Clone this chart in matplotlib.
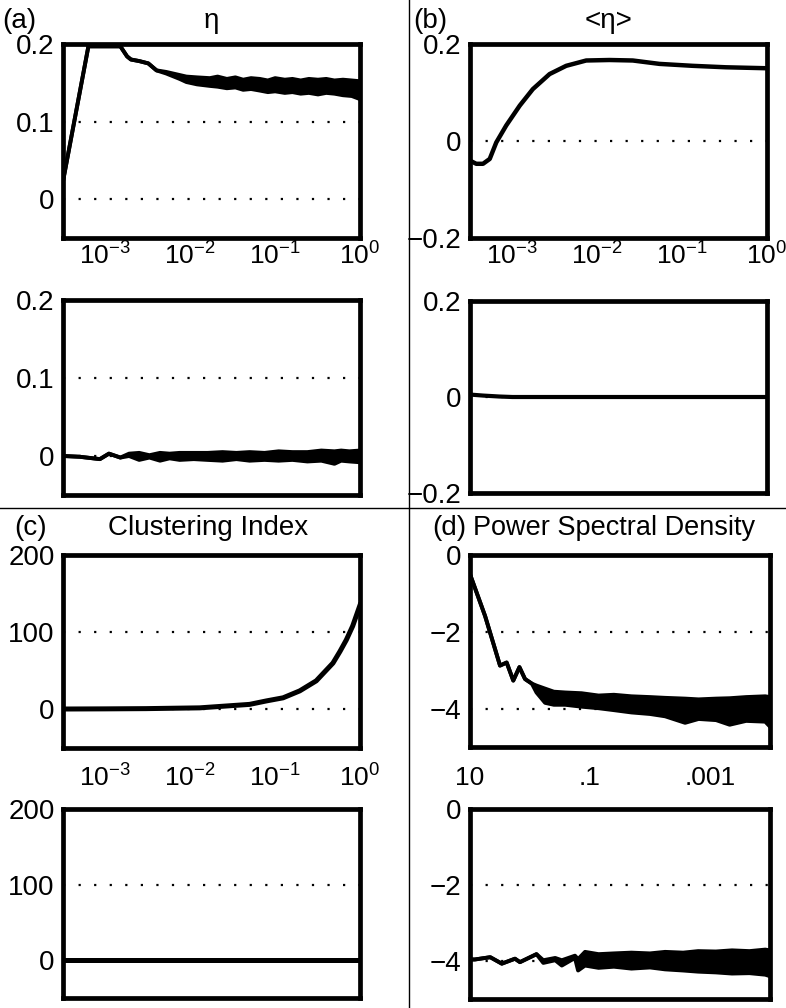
import matplotlib
matplotlib.use('Agg')

import matplotlib.pyplot as plt
from matplotlib.lines import Line2D
from matplotlib.ticker import FixedLocator, FixedFormatter, NullLocator

plt.rcParams['font.family'] = ['Liberation Sans', 'DejaVu Sans']
plt.rcParams['mathtext.fontset'] = 'custom'
plt.rcParams['mathtext.rm'] = 'Liberation Sans'
plt.rcParams['mathtext.it'] = 'Liberation Sans'

# --- Data ---
# (a) eta, original sequence: envelope of the noisy curve
a1_x = [3.2e-4, 6.3e-4, 1.5e-3, 1.8e-3, 2.0e-3, 2.5e-3, 3.2e-3, 4.0e-3, 5.2e-3, 7.5e-3,
        9.0e-3, 0.012, 0.017, 0.021, 0.027, 0.034, 0.042, 0.052, 0.066, 0.082,
        0.10, 0.13, 0.16, 0.20, 0.25, 0.32, 0.40, 0.50, 0.63, 0.80, 1.0]
a1_hi = [0.026, 0.197, 0.197, 0.184, 0.180, 0.178, 0.175, 0.166, 0.164, 0.160,
         0.158, 0.157, 0.156, 0.158, 0.155, 0.157, 0.154, 0.156, 0.155, 0.153,
         0.156, 0.154, 0.155, 0.153, 0.155, 0.154, 0.155, 0.153, 0.154, 0.153, 0.152]
a1_lo = [0.026, 0.197, 0.197, 0.184, 0.180, 0.178, 0.175, 0.166, 0.162, 0.155,
         0.151, 0.148, 0.146, 0.145, 0.143, 0.144, 0.141, 0.142, 0.140, 0.138,
         0.139, 0.137, 0.138, 0.136, 0.137, 0.135, 0.137, 0.136, 0.134, 0.133, 0.129]

# (a) eta, shuffled sequence
a2_x = [3.2e-4, 5.0e-4, 8.6e-4, 1.1e-3, 1.5e-3, 1.9e-3, 2.5e-3, 3.3e-3, 4.4e-3, 5.7e-3,
        7.5e-3, 0.011, 0.016, 0.024, 0.035, 0.05, 0.075, 0.11, 0.16, 0.24,
        0.35, 0.5, 0.6, 0.75, 1.0]
a2_hi = [0.0, -0.001, -0.004, 0.003, -0.002, 0.003, 0.004, 0.001, 0.004, 0.003,
         0.004, 0.004, 0.004, 0.005, 0.004, 0.005, 0.004, 0.006, 0.005, 0.005,
         0.007, 0.006, 0.007, 0.006, 0.007]
a2_lo = [0.0, -0.001, -0.004, 0.003, -0.002, 0.0, -0.005, -0.002, -0.006, -0.003,
         -0.005, -0.004, -0.005, -0.006, -0.004, -0.006, -0.005, -0.006, -0.005, -0.007,
         -0.006, -0.010, -0.006, -0.007, -0.008]

# (b) <eta>
b1_x = [3.2e-4, 3.75e-4, 4.5e-4, 5.4e-4, 6.45e-4, 8.45e-4, 1.22e-3, 1.74e-3, 2.74e-3,
        4.3e-3, 7.4e-3, 0.0139, 0.0262, 0.054, 0.133, 0.327, 1.0]
b1_y = [-0.041, -0.047, -0.047, -0.037, -0.003, 0.032, 0.073, 0.107, 0.138,
        0.155, 0.166, 0.167, 0.166, 0.159, 0.155, 0.152, 0.150]
b2_x = [3.2e-4, 4.5e-4, 7.0e-4, 1.0e-3, 0.01, 0.1, 1.0]
b2_y = [0.005, 0.003, 0.001, 0.0, 0.0, 0.0, 0.0]

# (c) clustering index
c1_x = [3.2e-4, 1.0e-3, 3.0e-3, 0.0129, 0.05, 0.079, 0.124, 0.195, 0.305, 0.48, 0.58, 0.69, 0.82, 1.0]
c1_y = [0.5, 0.7, 1.0, 2.0, 6.5, 11, 15, 24, 37, 60, 75, 90, 108, 135]
c2_x = [3.2e-4, 1.0]
c2_y = [0.0, 0.0]

# (d) power spectral density (log10), x runs from 10 down to 1e-4
d1_x = [10, 5.6, 3.16, 2.45, 1.9, 1.5, 1.21, 0.93, 0.78, 0.56, 0.4, 0.26, 0.138, 0.072,
        0.04, 0.0204, 0.01, 5.6e-3, 2.6e-3, 1.55e-3, 7.9e-4, 4.7e-4, 2.5e-4, 1.2e-4, 1e-4]
d1_hi = [-0.5, -1.59, -2.88, -2.80, -3.27, -2.92, -3.23, -3.35, -3.40, -3.48, -3.56, -3.58,
         -3.60, -3.66, -3.64, -3.68, -3.70, -3.72, -3.74, -3.76, -3.74, -3.73, -3.70, -3.68, -3.70]
d1_lo = [-0.5, -1.59, -2.88, -2.80, -3.27, -2.92, -3.23, -3.35, -3.58, -3.85, -3.90, -3.90,
         -3.95, -3.99, -4.04, -4.10, -4.14, -4.20, -4.37, -4.27, -4.30, -4.42, -4.32, -4.34, -4.47]

d2_x = [10, 8.3, 4.6, 2.95, 1.78, 1.47, 0.78, 0.6, 0.38, 0.295, 0.178, 0.158, 0.121, 0.072,
        0.04, 0.0204, 0.01, 5.6e-3, 2.8e-3, 1.58e-3, 8e-4, 4.3e-4, 2.2e-4, 1.2e-4, 1e-4]
d2_hi = [-3.96, -3.96, -3.90, -4.07, -3.94, -4.03, -3.82, -3.98, -3.92, -3.98, -3.86, -3.95,
         -3.76, -3.82, -3.80, -3.78, -3.80, -3.76, -3.78, -3.74, -3.75, -3.72, -3.74, -3.70, -3.72]
d2_lo = [-3.96, -3.96, -3.90, -4.07, -3.94, -4.03, -3.82, -4.05, -3.98, -4.12, -3.92, -4.25,
         -4.12, -4.18, -4.15, -4.20, -4.17, -4.22, -4.25, -4.28, -4.30, -4.33, -4.32, -4.36, -4.40]

# tick labels
log_ticks = [1e-3, 1e-2, 1e-1, 1.0]
log_labels = [r'$\mathregular{10^{-3}}$', r'$\mathregular{10^{-2}}$',
              r'$\mathregular{10^{-1}}$', r'$\mathregular{10^{0}}$']
psd_ticks = [10, 0.1, 0.001]
psd_labels = ['10', '.1', '.001']

# --- Figure ---
W, H = 786, 1008
fig = plt.figure(figsize=(W / 100, H / 100), dpi=100)
FS = 20


def px_axes(x0, y0, x1, y1):
    return fig.add_axes([x0 / W, 1 - y1 / H, (x1 - x0) / W, (y1 - y0) / H])


def setup(ax, ylim, yticks, ylabels, dotted, xlim, xticks=None, xlabels=None, xpad=3):
    ax.set_xscale('log')
    ax.set_xlim(*xlim)
    ax.set_ylim(*ylim)
    ax.yaxis.set_major_locator(FixedLocator(yticks))
    ax.yaxis.set_major_formatter(FixedFormatter(ylabels))
    ax.xaxis.set_minor_locator(NullLocator())
    ax.yaxis.set_minor_locator(NullLocator())
    if xticks is None:
        ax.xaxis.set_major_locator(NullLocator())
    else:
        ax.xaxis.set_major_locator(FixedLocator(xticks))
        ax.xaxis.set_major_formatter(FixedFormatter(xlabels))
    ax.tick_params(axis='y', length=0, pad=6, labelsize=FS)
    ax.tick_params(axis='x', length=0, pad=xpad, labelsize=FS - 1)
    for s in ax.spines.values():
        s.set_linewidth(3.4)
        s.set_zorder(5)
    for v in dotted:
        ax.axhline(v, color='k', lw=1.6, ls=(0, (1, 6)), zorder=1)


def band(ax, x, lo, hi, lw=2.8):
    ax.fill_between(x, lo, hi, color='k', lw=0, zorder=3)
    ax.plot(x, hi, color='k', lw=lw, zorder=3, solid_joinstyle='round')
    ax.plot(x, lo, color='k', lw=lw, zorder=3, solid_joinstyle='round')


eta_lim = (10 ** -3.5, 1.0)

ax_a1 = px_axes(63, 44, 360, 238)
setup(ax_a1, (-0.05, 0.2), [0, 0.1, 0.2], ['0', '0.1', '0.2'], [0, 0.1],
      eta_lim, log_ticks, log_labels, xpad=3)
band(ax_a1, a1_x, a1_lo, a1_hi)

ax_a2 = px_axes(63, 300, 360, 495)
setup(ax_a2, (-0.05, 0.2), [0, 0.1, 0.2], ['0', '0.1', '0.2'], [0, 0.1], eta_lim)
band(ax_a2, a2_x, a2_lo, a2_hi)

ax_b1 = px_axes(470, 44, 767, 238)
setup(ax_b1, (-0.2, 0.2), [-0.2, 0, 0.2], ['\u22120.2', '0', '0.2'], [0],
      eta_lim, log_ticks, log_labels, xpad=3)
ax_b1.plot(b1_x, b1_y, color='k', lw=3.2, zorder=3, solid_joinstyle='round')

ax_b2 = px_axes(470, 301, 767, 493)
setup(ax_b2, (-0.2, 0.2), [-0.2, 0, 0.2], ['\u22120.2', '0', '0.2'], [0], eta_lim)
ax_b2.plot(b2_x, b2_y, color='k', lw=3.0, zorder=3)

ax_c1 = px_axes(63, 555, 360, 748)
setup(ax_c1, (-50, 200), [0, 100, 200], ['0', '100', '200'], [0, 100],
      eta_lim, log_ticks, log_labels, xpad=12)
ax_c1.plot(c1_x, c1_y, color='k', lw=3.6, zorder=3, solid_joinstyle='round')

ax_c2 = px_axes(63, 809, 360, 998)
setup(ax_c2, (-50, 200), [0, 100, 200], ['0', '100', '200'], [0, 100], eta_lim)
ax_c2.plot(c2_x, c2_y, color='k', lw=3.6, zorder=3)

psd_lim = (10, 1e-4)
ax_d1 = px_axes(470, 555, 770, 747)
setup(ax_d1, (-5, 0), [-4, -2, 0], ['\u22124', '\u22122', '0'], [-2, -4],
      psd_lim, psd_ticks, psd_labels, xpad=14)
band(ax_d1, d1_x, d1_lo, d1_hi)

ax_d2 = px_axes(470, 809, 770, 999)
setup(ax_d2, (-5, 0), [-4, -2, 0], ['\u22124', '\u22122', '0'], [-2, -4], psd_lim)
band(ax_d2, d2_x, d2_lo, d2_hi)


# --- Panel titles ---
def ftext(x, y, s, ha='left', size=FS):
    fig.text(x / W, 1 - y / H, s, ha=ha, va='baseline', fontsize=size)


ftext(2, 28, '(a)')
ftext(211, 28, '\u03b7', ha='center')
ftext(413, 28, '(b)')
ftext(609, 28, '<\u03b7>', ha='center')
ftext(14, 535, '(c)')
ftext(208, 535, 'Clustering Index', ha='center')
ftext(432, 535, '(d)')
ftext(614, 535, 'Power Spectral Density', ha='center', size=19.5)

# --- Panel dividers ---
fig.add_artist(Line2D([409 / W, 409 / W], [0, 1], color='k', lw=1.0))
fig.add_artist(Line2D([0, 1], [1 - 508 / H, 1 - 508 / H], color='k', lw=1.0))

fig.savefig('out.png', dpi=100)
